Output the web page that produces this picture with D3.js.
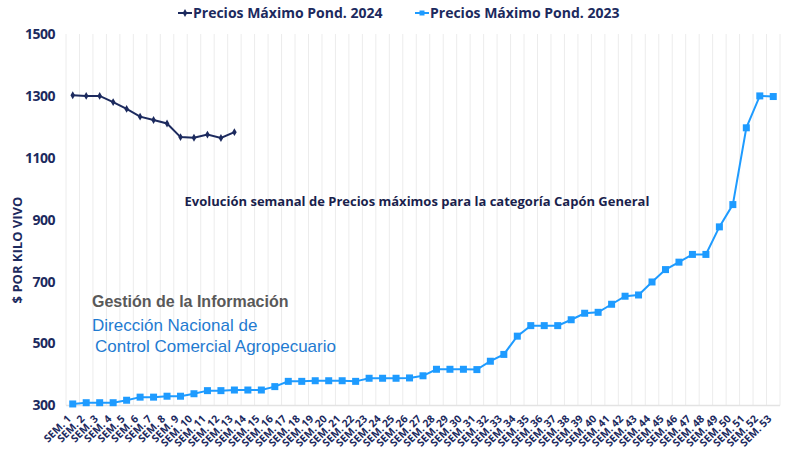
<!DOCTYPE html>
<html>
<head>
<meta charset="utf-8">
<script src="https://cdn.jsdelivr.net/npm/d3@7"></script>
<style>
  body { margin: 0; background: #fff; }
  text { font-family: "Open Sans", "DejaVu Sans", sans-serif; }
</style>
</head>
<body>
<svg id="chart"></svg>
<script>
// weeks 1..53
const weeks = d3.range(1, 54).map(n => "SEM. " + n);

// Precios Máximo Pond. 2024 (only first 13 weeks)
const values2024 = [1302, 1300, 1300, 1280, 1258, 1233, 1222, 1211, 1167, 1165, 1175, 1164, 1183];

// Precios Máximo Pond. 2023
const values2023 = [
  305, 309, 309, 309, 317, 327, 327, 330, 330, 338,
  348, 348, 350, 350, 350, 361, 378, 378, 380, 380,
  380, 378, 388, 388, 388, 389, 396, 417, 417, 417,
  416, 443, 465, 524, 558, 558, 558, 577, 598, 601,
  627, 653, 657, 699, 739, 763, 788, 788, 877, 949,
  1197, 1300, 1298
];

const yTicks = [300, 500, 700, 900, 1100, 1300, 1500];

const width = 790;
const height = 468;
const margin = { top: 34, right: 10, bottom: 62, left: 66 };

const navy = "#1c2a5e";
const lightBlue = "#1e9bff";

const svg = d3.select("#chart")
  .attr("width", width)
  .attr("height", height);

// scales
const x = d3.scaleBand()
  .domain(weeks)
  .range([margin.left, width - margin.right]);

const y = d3.scaleLinear()
  .domain([300, 1500])
  .range([height - margin.bottom - 0.5, margin.top]);

const cx = d => x(d) + x.bandwidth() / 2;

// vertical grid lines between categories
svg.append("g")
  .selectAll("line")
  .data(weeks)
  .enter().append("line")
  .attr("x1", d => x(d))
  .attr("x2", d => x(d))
  .attr("y1", y(1500))
  .attr("y2", y(300))
  .attr("stroke", "#ececec")
  .attr("stroke-width", 1);

svg.append("line")
  .attr("x1", width - margin.right)
  .attr("x2", width - margin.right)
  .attr("y1", y(1500))
  .attr("y2", y(300))
  .attr("stroke", "#ececec");

// bottom axis line
svg.append("line")
  .attr("x1", margin.left)
  .attr("x2", width - margin.right)
  .attr("y1", y(300))
  .attr("y2", y(300))
  .attr("stroke", "#e3e3e3")
  .attr("stroke-width", 1.5);

// y tick labels
svg.append("g")
  .selectAll("text")
  .data(yTicks)
  .enter().append("text")
  .attr("x", 55)
  .attr("y", d => y(d))
  .attr("dy", "0.35em")
  .attr("text-anchor", "end")
  .attr("fill", navy)
  .style("font-size", "14px")
  .style("font-weight", "bold")
  .style("letter-spacing", "-0.5px")
  .text(d => d);

// y axis title
svg.append("text")
  .attr("transform", "translate(22,250) rotate(-90)")
  .attr("text-anchor", "middle")
  .attr("fill", navy)
  .style("font-size", "13px")
  .style("font-weight", "bold")
  .text("$ POR KILO VIVO");

// x tick labels, rotated
svg.append("g")
  .selectAll("text")
  .data(weeks)
  .enter().append("text")
  .attr("transform", d => `translate(${cx(d) - 1},${y(300) + 14}) rotate(-45)`)
  .attr("text-anchor", "end")
  .attr("fill", navy)
  .style("font-size", "10.5px")
  .style("font-weight", "bold")
  .text(d => d);

// lines
const line = d3.line()
  .x((d, i) => cx(weeks[i]))
  .y(d => y(d));

svg.append("path")
  .datum(values2023)
  .attr("fill", "none")
  .attr("stroke", lightBlue)
  .attr("stroke-width", 2)
  .attr("d", line);

svg.append("g")
  .selectAll("rect")
  .data(values2023)
  .enter().append("rect")
  .attr("x", (d, i) => cx(weeks[i]) - 3.5)
  .attr("y", d => y(d) - 3.5)
  .attr("width", 7)
  .attr("height", 7)
  .attr("fill", lightBlue);

svg.append("path")
  .datum(values2024)
  .attr("fill", "none")
  .attr("stroke", navy)
  .attr("stroke-width", 2)
  .attr("d", line);

svg.append("g")
  .selectAll("path")
  .data(values2024)
  .enter().append("path")
  .attr("transform", (d, i) => `translate(${cx(weeks[i])},${y(d)})`)
  .attr("d", d3.symbol(d3.symbolDiamond, 18))
  .attr("fill", navy);

// chart title
svg.append("text")
  .attr("x", 417)
  .attr("y", 206)
  .attr("text-anchor", "middle")
  .attr("fill", "#1a1f4d")
  .style("font-size", "13px")
  .style("font-weight", "bold")
  .text("Evolución semanal de Precios máximos para la categoría Capón General");

// legend
const legendItems = [
  { label: "Precios Máximo Pond. 2024", color: navy, x: 178, square: false },
  { label: "Precios Máximo Pond. 2023", color: lightBlue, x: 415, square: true }
];

const legend = svg.selectAll(".legend")
  .data(legendItems)
  .enter().append("g")
  .attr("class", "legend")
  .attr("transform", d => `translate(${d.x},13)`);

legend.append("line")
  .attr("x1", 0)
  .attr("x2", 14)
  .attr("stroke", d => d.color)
  .attr("stroke-width", 2);

legend.append("path")
  .attr("transform", "translate(7,0)")
  .attr("d", d => d.square ? d3.symbol(d3.symbolSquare, 25)() : d3.symbol(d3.symbolDiamond, 18)())
  .attr("fill", d => d.color);

legend.append("text")
  .attr("x", 15)
  .attr("dy", "0.35em")
  .attr("fill", navy)
  .style("font-size", "14px")
  .style("font-weight", "bold")
  .text(d => d.label);

// source note
svg.append("text")
  .attr("x", 92)
  .attr("y", 307)
  .attr("fill", "#595959")
  .style("font-family", "'Liberation Sans', Arial, sans-serif")
  .style("font-size", "16px")
  .style("font-weight", "bold")
  .text("Gestión de la Información");

svg.append("text")
  .attr("x", 92)
  .attr("y", 331)
  .attr("fill", "#1f7bd1")
  .style("font-family", "'Liberation Sans', Arial, sans-serif")
  .style("font-size", "17px")
  .text("Dirección Nacional de");

svg.append("text")
  .attr("x", 95)
  .attr("y", 352)
  .attr("fill", "#1f7bd1")
  .style("font-family", "'Liberation Sans', Arial, sans-serif")
  .style("font-size", "17px")
  .text("Control Comercial Agropecuario");
</script>
</body>
</html>
